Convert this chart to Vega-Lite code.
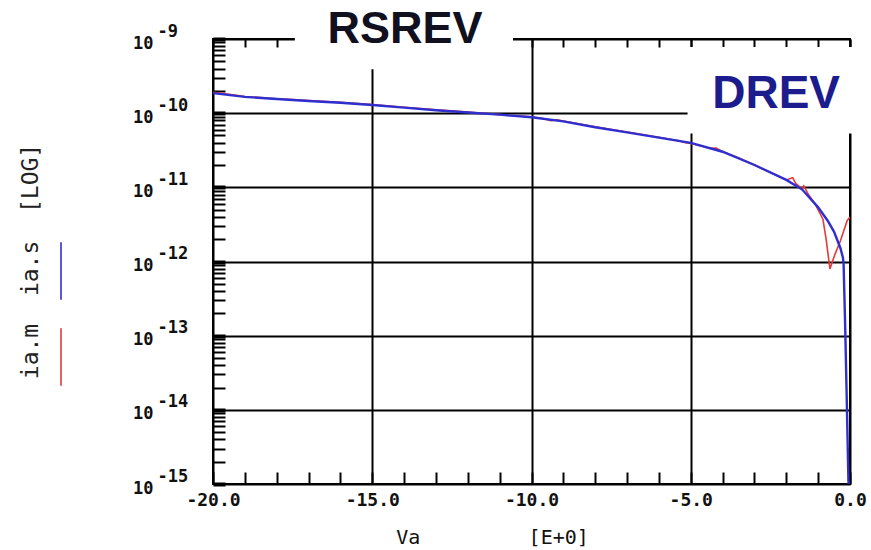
{
  "$schema": "https://vega.github.io/schema/vega-lite/v6.json",
  "width": 637,
  "height": 445,
  "autosize": "none",
  "padding": {"left": 213, "top": 39, "right": 21, "bottom": 66},
  "background": "white",
  "datasets": {
    "measured": [
      {"v": -20, "i": 1.905e-10}, {"v": -19.5, "i": 1.799e-10}, {"v": -19, "i": 1.679e-10}, {"v": -18.5, "i": 1.622e-10},
      {"v": -18, "i": 1.567e-10}, {"v": -17.5, "i": 1.531e-10}, {"v": -17, "i": 1.479e-10}, {"v": -16, "i": 1.396e-10},
      {"v": -15, "i": 1.303e-10}, {"v": -14, "i": 1.202e-10}, {"v": -13, "i": 1.109e-10}, {"v": -12, "i": 1.035e-10},
      {"v": -11, "i": 9.55e-11}, {"v": -10, "i": 8.91e-11}, {"v": -9.6, "i": 8.41e-11}, {"v": -9.4, "i": 7.94e-11},
      {"v": -9.2, "i": 8.13e-11}, {"v": -9, "i": 7.85e-11}, {"v": -8, "i": 6.53e-11}, {"v": -7, "i": 5.56e-11},
      {"v": -6, "i": 4.73e-11}, {"v": -5.6, "i": 4.42e-11}, {"v": -5.4, "i": 4.27e-11}, {"v": -5.2, "i": 4.03e-11},
      {"v": -5, "i": 3.89e-11}, {"v": -4.6, "i": 3.55e-11}, {"v": -4.4, "i": 3.35e-11}, {"v": -4.2, "i": 3.39e-11},
      {"v": -4, "i": 3.02e-11}, {"v": -3.5, "i": 2.51e-11}, {"v": -3, "i": 2.0e-11}, {"v": -2.5, "i": 1.585e-11},
      {"v": -2, "i": 1.259e-11}, {"v": -1.8, "i": 1.349e-11}, {"v": -1.7, "i": 1.122e-11}, {"v": -1.5, "i": 9.55e-12},
      {"v": -1.45, "i": 1.047e-11}, {"v": -1.3, "i": 7.94e-12}, {"v": -1.1, "i": 6.03e-12}, {"v": -0.85, "i": 3.72e-12},
      {"v": -0.75, "i": 2.0e-12}, {"v": -0.63, "i": 7.94e-13}, {"v": -0.55, "i": 1.0e-12}, {"v": -0.47, "i": 1.259e-12},
      {"v": -0.3, "i": 1.905e-12}, {"v": -0.09, "i": 3.55e-12}, {"v": 0, "i": 3.98e-12}
    ],
    "simulated": [
      {"v": -20, "i": 1.862e-10}, {"v": -19, "i": 1.66e-10}, {"v": -18, "i": 1.549e-10}, {"v": -17, "i": 1.462e-10},
      {"v": -16, "i": 1.38e-10}, {"v": -15, "i": 1.288e-10}, {"v": -14, "i": 1.189e-10}, {"v": -13, "i": 1.096e-10},
      {"v": -12, "i": 1.023e-10}, {"v": -11, "i": 9.55e-11}, {"v": -10, "i": 8.81e-11}, {"v": -9, "i": 7.76e-11},
      {"v": -8, "i": 6.46e-11}, {"v": -7, "i": 5.5e-11}, {"v": -6, "i": 4.68e-11}, {"v": -5, "i": 3.98e-11},
      {"v": -4, "i": 3.02e-11}, {"v": -3, "i": 2.0e-11}, {"v": -2, "i": 1.26e-11}, {"v": -1.5, "i": 9.33e-12},
      {"v": -1, "i": 5.37e-12}, {"v": -0.7, "i": 3.55e-12}, {"v": -0.5, "i": 2.51e-12}, {"v": -0.3, "i": 1.51e-12},
      {"v": -0.22, "i": 1.12e-12}, {"v": -0.2, "i": 8.9e-13}, {"v": -0.15, "i": 1.26e-13}, {"v": -0.1, "i": 1.26e-14},
      {"v": -0.05, "i": 1.12e-15}, {"v": -0.04, "i": 1e-15}
    ]
  },
  "layer": [
    {
      "data": {"values": [{}]},
      "mark": {"type": "rect", "fill": "white", "stroke": null},
      "encoding": {
        "x": {"datum": -17.43, "type": "quantitative", "axis": null},
        "x2": {"datum": -10.58},
        "y": {"datum": 3.9e-10, "type": "quantitative", "axis": null},
        "y2": {"datum": 1.12e-9}
      }
    },
    {
      "data": {"values": [{}]},
      "mark": {"type": "rect", "fill": "white", "stroke": null},
      "encoding": {
        "x": {"datum": -5.1, "type": "quantitative", "axis": null},
        "x2": {"datum": 0.7},
        "y": {"datum": 7.8e-10, "type": "quantitative", "axis": null},
        "y2": {"datum": 5.3e-11}
      }
    },
    {
      "data": {"values": [{}]},
      "mark": {"type": "text", "text": "RSREV", "font": "Liberation Sans", "fontSize": 45, "fontWeight": "bold", "color": "#10101e", "align": "center", "baseline": "alphabetic"},
      "encoding": {
        "x": {"datum": -13.97, "type": "quantitative", "axis": null},
        "y": {"datum": 8.83e-10, "type": "quantitative", "axis": null}
      }
    },
    {
      "data": {"name": "measured"},
      "mark": {"type": "line", "strokeWidth": 1.6, "clip": true},
      "encoding": {
        "x": {
          "field": "v", "type": "quantitative",
          "scale": {"domain": [-20, 0], "nice": false, "zero": false},
          "axis": {
            "orient": "bottom",
            "values": [-20,-19,-18,-17,-16,-15,-14,-13,-12,-11,-10,-9,-8,-7,-6,-5,-4,-3,-2,-1,0],
            "labelExpr": "datum.value % 5 === 0 ? (datum.value === 0 ? '0.0' : datum.value + '.0') : ''",
            "domain": false,
            "ticks": true, "tickSize": -12, "tickWidth": 2, "tickColor": "black",
            "grid": true, "gridColor": "black", "gridWidth": 2,
            "gridOpacity": {"condition": {"test": "datum.value % 5 === 0", "value": 1}, "value": 0},
            "labelFont": "DejaVu Sans Mono", "labelFontWeight": "bold", "labelFontSize": 18, "labelColor": "#111",
            "labelPadding": 19, "labelFlush": false, "labelOverlap": false, "labelBound": false,
            "title": "Va\u00a0\u00a0\u00a0\u00a0\u00a0\u00a0\u00a0\u00a0\u00a0[E+0]",
            "titleFont": "DejaVu Sans Mono", "titleFontSize": 20, "titleFontWeight": "normal", "titleColor": "#111",
            "titleX": 279, "titleY": 59, "titleBaseline": "alphabetic", "titleAlign": "center"
          }
        },
        "y": {
          "field": "i", "type": "quantitative",
          "scale": {"type": "log", "domain": [1e-15, 1e-9], "nice": false},
          "axis": {
            "orient": "left",
            "values": [1e-15,2e-15,3e-15,4e-15,5e-15,6e-15,7e-15,8e-15,9e-15,
                       1e-14,2e-14,3e-14,4e-14,5e-14,6e-14,7e-14,8e-14,9e-14,
                       1e-13,2e-13,3e-13,4e-13,5e-13,6e-13,7e-13,8e-13,9e-13,
                       1e-12,2e-12,3e-12,4e-12,5e-12,6e-12,7e-12,8e-12,9e-12,
                       1e-11,2e-11,3e-11,4e-11,5e-11,6e-11,7e-11,8e-11,9e-11,
                       1e-10,2e-10,3e-10,4e-10,5e-10,6e-10,7e-10,8e-10,9e-10,1e-9],
            "labelExpr": "abs(log(datum.value)/LN10 - round(log(datum.value)/LN10)) < 0.01 ? '10' : ''",
            "domain": false,
            "ticks": true, "tickSize": -12, "tickColor": "black",
            "tickWidth": {"condition": {"test": "abs(log(datum.value)/LN10 - round(log(datum.value)/LN10)) < 0.01", "value": 4}, "value": 2},
            "grid": true, "gridColor": "black", "gridWidth": 2,
            "gridOpacity": {"condition": {"test": "abs(log(datum.value)/LN10 - round(log(datum.value)/LN10)) < 0.01", "value": 1}, "value": 0},
            "labelFont": "DejaVu Sans Mono", "labelFontWeight": "bold", "labelFontSize": 17, "labelColor": "#111",
            "labelAlign": "right", "labelBaseline": "middle", "labelPadding": 72, "labelOffset": 4,
            "labelFlush": false, "labelOverlap": false, "labelBound": false,
            "title": "ia.m\u00a0\u00a0ia.s\u00a0\u00a0[LOG]",
            "titleFont": "DejaVu Sans Mono", "titleFontSize": 23, "titleFontWeight": "normal", "titleColor": "#222",
            "titleX": -176, "titleY": 222, "titleAngle": -90, "titleBaseline": "alphabetic", "titleAlign": "center"
          }
        },
        "color": {
          "datum": "ia.m",
          "scale": {"domain": ["ia.s", "ia.m"], "range": ["#2f2fd0", "#e33a3a"]},
          "legend": {
            "orient": "none", "legendX": -182, "legendY": 202, "direction": "vertical",
            "title": null, "padding": 0, "symbolType": "M0,-1L0,1", "symbolSize": 3300,
            "symbolStrokeWidth": 1.6, "rowPadding": 22, "labelExpr": "''"
          }
        }
      }
    },
    {
      "data": {"name": "simulated"},
      "mark": {"type": "line", "strokeWidth": 2.4, "clip": true},
      "encoding": {
        "x": {
          "field": "v", "type": "quantitative",
          "axis": {
            "orient": "top",
            "values": [-20,-19,-18,-17,-16,-15,-14,-13,-12,-11,-10,-9,-8,-7,-6,-5,-4,-3,-2,-1,0],
            "labels": false, "domain": false, "grid": false,
            "ticks": true, "tickSize": -8, "tickWidth": 2, "tickColor": "black",
            "title": null
          }
        },
        "y": {
          "field": "i", "type": "quantitative",
          "axis": {
            "orient": "left",
            "values": [1e-15, 1e-14, 1e-13, 1e-12, 1e-11, 1e-10, 1e-9],
            "labelExpr": "'-' + round(-log(datum.value)/LN10)",
            "domain": false, "ticks": false, "grid": false,
            "labelFont": "DejaVu Sans Mono", "labelFontWeight": "bold", "labelFontSize": 17, "labelColor": "#111",
            "labelAlign": "left", "labelBaseline": "middle", "labelPadding": 56, "labelOffset": -8,
            "labelFlush": false, "labelOverlap": false, "labelBound": false,
            "title": null
          }
        },
        "color": {"datum": "ia.s"}
      }
    },
    {
      "data": {"values": [{}]},
      "mark": {"type": "text", "text": "DREV", "font": "Liberation Sans", "fontSize": 46, "fontWeight": "bold", "color": "#1c1c8c", "align": "center", "baseline": "alphabetic"},
      "encoding": {
        "x": {"datum": -2.32, "type": "quantitative", "axis": null},
        "y": {"datum": 1.17e-10, "type": "quantitative", "axis": null}
      }
    }
  ],
  "resolve": {"axis": {"x": "independent", "y": "independent"}},
  "config": {
    "view": {"stroke": "black", "strokeWidth": 2},
    "axis": {"zindex": 0}
  }
}
